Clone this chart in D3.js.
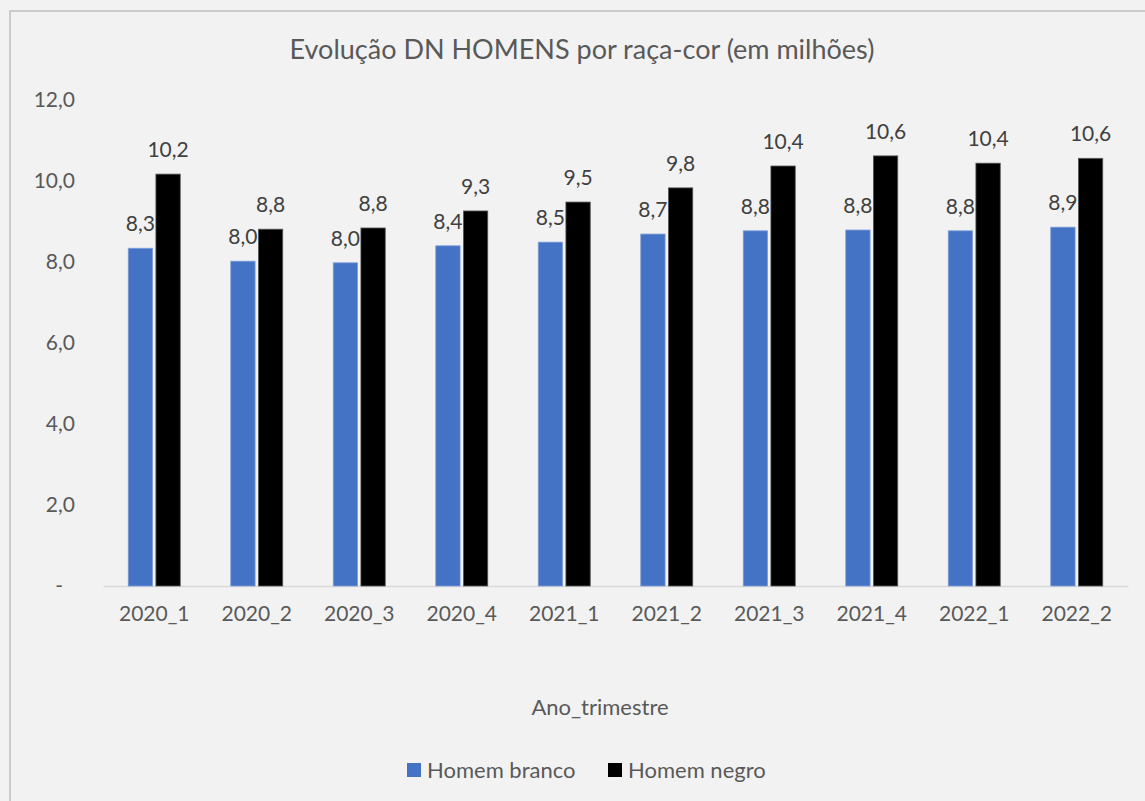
<!DOCTYPE html>
<html><head><meta charset="utf-8">
<script src="https://cdn.jsdelivr.net/npm/d3@7"></script>
<style>body{margin:0;background:#fff;} svg{display:block;}</style>
</head><body>
<script>
const categories = ["2020_1","2020_2","2020_3","2020_4","2021_1","2021_2","2021_3","2021_4","2022_1","2022_2"];
const homemBranco = [8.34, 8.02, 7.98, 8.40, 8.49, 8.69, 8.77, 8.79, 8.77, 8.86];
const homemNegro  = [10.17, 8.81, 8.84, 9.26, 9.48, 9.83, 10.37, 10.62, 10.44, 10.56];
const seriesNames = ["Homem branco", "Homem negro"];
const seriesColors = ["#4472c4", "#000000"];
const yTicks = [0, 2, 4, 6, 8, 10, 12];
const chartTitle = "Evolução DN HOMENS por raça-cor (em milhões)";
const xTitle = "Ano_trimestre";

(function(){
const W = 1145, H = 801;
const font = "Lato, 'Open Sans', sans-serif";
const svg = d3.select("body").append("svg").attr("width", W).attr("height", H);
svg.append("rect").attr("width", W).attr("height", H).attr("fill", "#f2f2f2");
svg.append("rect").attr("x", 10).attr("y", 11).attr("width", 1150).attr("height", 810)
  .attr("fill", "none").attr("stroke", "#bfbfbf").attr("stroke-width", 1.5);

const pl = 103, pr = 1128, pt = 100, pb = 586;
const x = d3.scaleBand().domain(categories).range([pl, pr]).paddingInner(0).paddingOuter(0);
const inner = d3.scaleBand().domain(seriesNames).range([x.bandwidth()/2 - 26, x.bandwidth()/2 + 26]).paddingInner(0.12);
const y = d3.scaleLinear().domain([0, 12]).range([pb, pt]);

const fmt = v => v === 0 ? "-" : d3.format(".1f")(v).replace(".", ",");

const yAxis = d3.axisLeft(y).tickValues(yTicks).tickFormat(fmt).tickSize(0).tickPadding(0);
const gy = svg.append("g").attr("transform", `translate(75,0)`).call(yAxis);
gy.select(".domain").remove();
gy.selectAll("text").attr("font-family", font).attr("font-size", 21).attr("fill", "#595959")
  .attr("x", d => d === 0 ? -12 : 0);

const xAxis = d3.axisBottom(x).tickSize(0).tickPadding(20);
const gx = svg.append("g").attr("transform", `translate(0,${pb})`).call(xAxis);
gx.select(".domain").attr("stroke", "#d9d9d9").attr("stroke-width", 1.5);
gx.selectAll("text").attr("font-family", font).attr("font-size", 21).attr("fill", "#595959");

const data = categories.map((c, i) => ({cat: c, vals: [homemBranco[i], homemNegro[i]]}));
const groups = svg.append("g").selectAll("g").data(data).join("g")
  .attr("transform", d => `translate(${x(d.cat)},0)`);
groups.selectAll("rect").data(d => d.vals.map((v, k) => ({v, k})))
  .join("rect")
  .attr("x", d => inner(seriesNames[d.k]))
  .attr("width", inner.bandwidth())
  .attr("y", d => y(d.v))
  .attr("height", d => pb - y(d.v))
  .attr("fill", d => seriesColors[d.k])
  .attr("stroke", d => d.k === 1 ? "#595959" : "#7f9fd8")
  .attr("stroke-width", 0.8);
groups.selectAll("text").data(d => d.vals.map((v, k) => ({v, k})))
  .join("text")
  .attr("x", d => inner(seriesNames[d.k]) + inner.bandwidth()/2)
  .attr("y", d => y(d.v) - 17)
  .attr("text-anchor", "middle")
  .attr("font-family", font).attr("font-size", 21).attr("fill", "#404040")
  .text(d => fmt(d.v));

svg.append("text").attr("x", 582).attr("y", 59).attr("text-anchor", "middle")
  .attr("font-family", font).attr("font-size", 27).attr("fill", "#595959").text(chartTitle);
svg.append("text").attr("x", 600).attr("y", 715).attr("text-anchor", "middle")
  .attr("font-family", font).attr("font-size", 22).attr("fill", "#595959").text(xTitle);

const legX = [407, 608];
const leg = svg.append("g").selectAll("g").data(seriesNames).join("g")
  .attr("transform", (d, i) => `translate(${legX[i]},763)`);
leg.append("rect").attr("width", 14).attr("height", 14).attr("fill", (d, i) => seriesColors[i]);
leg.append("text").attr("x", 20).attr("y", 15).attr("font-family", font).attr("font-size", 22)
  .attr("fill", "#595959").text(d => d);
})();
</script>
</body></html>
